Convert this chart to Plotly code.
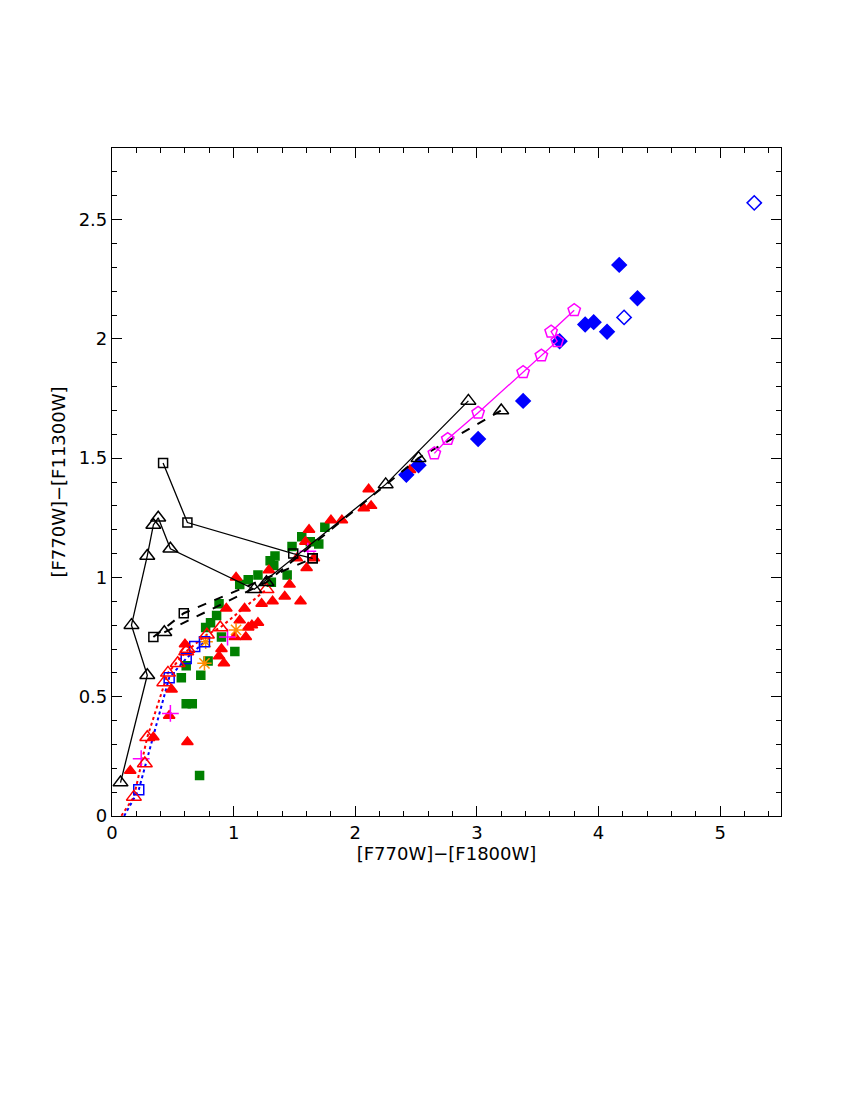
import plotly.graph_objects as go

# model tracks
tri_solid_x = [0.07, 0.29, 0.16, 0.29, 0.34, 0.38, 0.48, 1.17, 2.25, 2.93]
tri_solid_y = [0.14, 0.59, 0.80, 1.09, 1.22, 1.25, 1.12, 0.95, 1.39, 1.74]
sq_solid_x = [0.42, 0.62, 1.49, 1.65]
sq_solid_y = [1.48, 1.23, 1.10, 1.08]
sq_dash_x = [0.34, 0.59, 1.65]
sq_dash_y = [0.75, 0.85, 1.08]
tri_dash_x = [0.43, 1.27, 2.52, 3.20]
tri_dash_y = [0.77, 0.98, 1.50, 1.70]
pent_x = [2.65, 2.76, 3.01, 3.38, 3.53, 3.66, 3.61, 3.80]
pent_y = [1.52, 1.58, 1.69, 1.86, 1.93, 1.99, 2.03, 2.12]
bsq_x = [0.22, 0.47, 0.61, 0.68, 0.76]
bsq_y = [0.11, 0.58, 0.66, 0.71, 0.73]
bdot_x = [0.10, 0.22, 0.47, 0.61, 0.76]
bdot_y = [0.00, 0.11, 0.58, 0.66, 0.73]
rtri_x = [0.18, 0.27, 0.29, 0.43, 0.46, 0.54, 0.61, 0.62, 0.78, 0.89, 1.27]
rtri_y = [0.08, 0.22, 0.33, 0.56, 0.60, 0.64, 0.69, 0.70, 0.76, 0.79, 0.95]
rdot_x = [0.05, 0.18, 0.29, 0.46, 0.61, 0.78, 0.89, 1.27]
rdot_y = [-0.02, 0.08, 0.33, 0.60, 0.69, 0.76, 0.79, 0.95]

# observed sources
bdia_x = [2.42, 2.52, 3.01, 3.38, 3.68, 3.89, 3.96, 4.07, 4.17, 4.32]
bdia_y = [1.43, 1.47, 1.58, 1.74, 1.99, 2.06, 2.07, 2.03, 2.31, 2.17]
bdia_open_x = [4.21, 5.28]
bdia_open_y = [2.09, 2.57]
plus_x = [0.24, 0.48, 0.95, 1.61]
plus_y = [0.24, 0.43, 0.75, 1.11]
ast_x = [1.02, 0.76, 0.77]
ast_y = [0.78, 0.64, 0.73]
gsq_x = [0.72, 0.61, 0.66, 0.57, 0.73, 0.79, 1.01, 0.61, 0.77, 0.81, 0.86, 0.88, 0.90,
         1.05, 1.12, 1.20, 1.31, 1.33, 1.34, 1.44, 1.48, 1.56, 1.63, 1.70, 1.75, 1.30]
gsq_y = [0.17, 0.47, 0.47, 0.58, 0.59, 0.65, 0.69, 0.63, 0.79, 0.81, 0.84, 0.89, 0.75,
         0.97, 0.99, 1.01, 0.98, 1.05, 1.09, 1.01, 1.13, 1.17, 1.15, 1.14, 1.21, 1.07]
rtf_x = [0.15, 0.34, 0.47, 0.49, 0.62, 0.60, 0.90, 0.88, 0.92, 1.02, 1.01, 0.94, 1.05,
         1.09, 1.12, 1.10, 1.15, 1.20, 1.23, 1.29, 1.32, 1.42, 1.46, 1.55, 1.52, 1.59,
         1.62, 1.60, 1.66, 1.80, 1.89, 2.07, 2.13, 2.11, 2.45]
rtf_y = [0.19, 0.33, 0.42, 0.53, 0.31, 0.72, 0.70, 0.67, 0.64, 1.00, 0.75, 0.87, 0.82,
         0.87, 0.79, 0.75, 0.80, 0.81, 0.89, 1.03, 0.90, 0.92, 0.97, 0.90, 1.08, 1.15,
         1.20, 1.04, 1.08, 1.24, 1.24, 1.29, 1.30, 1.37, 1.45]

fig = go.Figure()
def add(x, y, mode, color, sym=None, size=11, dash=None, lw=1.5, width=1.5):
    fig.add_trace(go.Scatter(x=x, y=y, mode=mode, showlegend=False,
        line=dict(color=color, dash=dash, width=lw),
        marker=dict(symbol=sym, size=size, color=color, line=dict(color=color, width=width))))

add(rdot_x, rdot_y, "lines", "red", dash="dot", lw=2)
add(bdot_x, bdot_y, "lines", "blue", dash="dot", lw=2)
add(gsq_x, gsq_y, "markers", "green", "square", 8)
add(rtf_x, rtf_y, "markers", "red", "triangle-up", 10)
add(bdia_x, bdia_y, "markers", "blue", "diamond", 11)
add(bdia_open_x, bdia_open_y, "markers", "blue", "diamond-open", 11)
add(plus_x, plus_y, "markers", "magenta", "cross-thin-open", 12)
add(ast_x, ast_y, "markers", "darkorange", "asterisk-open", 12)
add(bsq_x, bsq_y, "markers", "blue", "square-open", 10)
add(rtri_x, rtri_y, "markers", "red", "triangle-up-open", 13)
add(tri_solid_x, tri_solid_y, "lines+markers", "black", "triangle-up-open", 13, lw=1.3)
add(sq_solid_x, sq_solid_y, "lines+markers", "black", "square-open", 9, lw=1.3)
add(sq_dash_x, sq_dash_y, "lines+markers", "black", "square-open", 9, dash="dash", lw=2)
add(tri_dash_x, tri_dash_y, "lines+markers", "black", "triangle-up-open", 13, dash="dash", lw=2)
add(pent_x, pent_y, "lines+markers", "magenta", "pentagon-open", 13, lw=1.3)

font = dict(family="DejaVu Sans", size=18, color="black")
axcommon = dict(showgrid=False, zeroline=False, mirror="allticks", ticks="inside",
                showline=True, linecolor="black", linewidth=1.2, ticklen=10,
                tickcolor="black", tickfont=font,
                minor=dict(ticks="inside", ticklen=5, tickcolor="black"))
fig.update_xaxes(range=[0, 5.5], tickvals=[0, 1, 2, 3, 4, 5],
                 minor_dtick=0.2, minor_tick0=0,
                 title=dict(text="[F770W]−[F1800W]", font=font, standoff=4), **axcommon)
fig.update_yaxes(range=[0, 2.8], tickvals=[0, 0.5, 1, 1.5, 2, 2.5],
                 ticktext=["0", "0.5", "1", "1.5", "2", "2.5"],
                 minor_dtick=0.1, minor_tick0=0,
                 title=dict(text="[F770W]−[F11300W]", font=font, standoff=8), **axcommon)
fig.update_layout(width=850, height=1100, plot_bgcolor="white", paper_bgcolor="white",
                  margin=dict(l=104, r=77, t=140, b=292))
fig.write_html("out.html")
